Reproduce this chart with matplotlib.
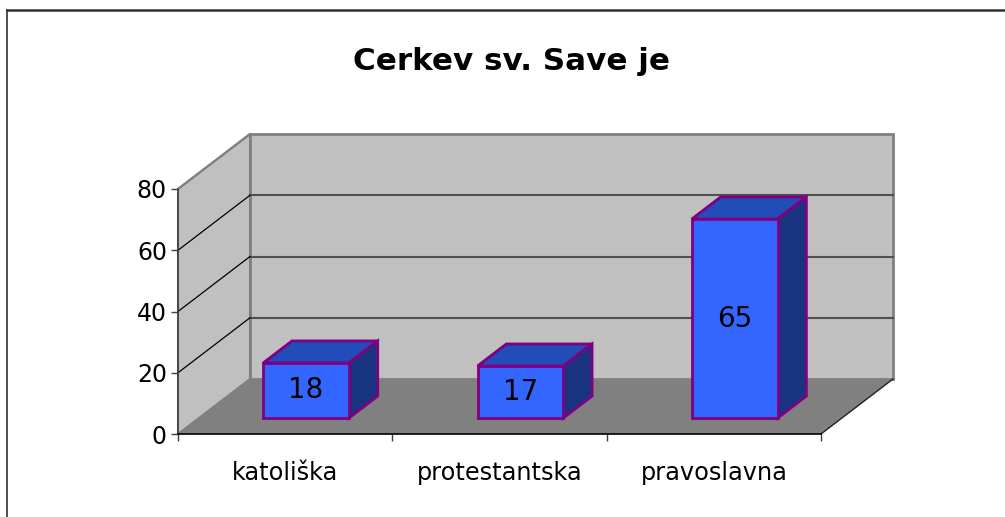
import matplotlib
matplotlib.use('Agg')
import matplotlib.pyplot as plt
from matplotlib.patches import Polygon

categories = ['katoliška', 'protestantska', 'pravoslavna']
values = [18, 17, 65]
yticks = [0, 20, 40, 60, 80]
title = 'Cerkev sv. Save je'

plt.rcParams['font.family'] = ['DejaVu Sans']

fig = plt.figure(figsize=(10.05, 5.17), dpi=100)
ax = fig.add_axes([178/1005, (517-434)/517, 643/1005, 245/517])
ax.set_xlim(0, len(categories))
ax.set_ylim(0, yticks[-1])
ax.patch.set_visible(False)

# oblique offset of the back wall, in data units
DX = 72/643*len(categories)
DY = 55/245*yticks[-1]
x0, x1 = ax.get_xlim()
y0, y1 = ax.get_ylim()

def proj(x, y, d):
    # d is the depth, 0 front, 1 back wall
    return (x + d*DX, y + d*DY)

def face(points, color, edge='none', lw=0, z=1):
    ax.add_patch(Polygon(points, closed=True, facecolor=color, edgecolor=edge,
                         linewidth=lw, clip_on=False, zorder=z, joinstyle='miter'))

wall = '#c0c0c0'
wall_edge = '#808080'

# floor and walls
face([proj(x0, y0, 0), proj(x0, y1, 0), proj(x0, y1, 1), proj(x0, y0, 1)], wall, wall_edge, 1.5, z=1)
face([proj(x0, y0, 1), proj(x1, y0, 1), proj(x1, y1, 1), proj(x0, y1, 1)], wall, wall_edge, 2, z=1)
face([proj(x0, y0, 0), proj(x1, y0, 0), proj(x1, y0, 1), proj(x0, y0, 1)], '#808080', z=2)
ax.plot(*zip(proj(x1, y0, 0), proj(x1, y0, 1)), color='#202020', lw=1, clip_on=False, zorder=2)

# gridlines
for t in yticks[1:-1]:
    ax.plot(*zip(proj(x0, t, 1), proj(x1, t, 1)), color='#505050', lw=1.5, clip_on=False, zorder=2)
    ax.plot(*zip(proj(x0, t, 0), proj(x0, t, 1)), color='black', lw=0.9, clip_on=False, zorder=2)
ax.plot(*zip(proj(x0, yticks[-1], 0), proj(x0, yticks[-1], 1)), color=wall_edge, lw=1.5, clip_on=False, zorder=2)

# bars
BAR_W = 0.4
D0, D1 = 0.29, 0.69
front = '#3366ff'
top = '#224cb8'
side = '#183480'
edge = '#800080'
for i, v in enumerate(values):
    xa = i + 0.5 - BAR_W/2
    xb = i + 0.5 + BAR_W/2
    face([proj(xa, 0, D0), proj(xb, 0, D0), proj(xb, v, D0), proj(xa, v, D0)], front, edge, 2, z=5)
    face([proj(xa, v, D0), proj(xb, v, D0), proj(xb, v, D1), proj(xa, v, D1)], top, edge, 2, z=4)
    face([proj(xb, 0, D0), proj(xb, 0, D1), proj(xb, v, D1), proj(xb, v, D0)], side, edge, 2, z=4)
    cx, cy = proj(i + 0.5, v/2, D0)
    ax.text(cx, cy, str(v), ha='center', va='center', fontsize=20, color='black', zorder=6)

# axes
for s in ['top', 'right']:
    ax.spines[s].set_visible(False)
ax.spines['left'].set_color('#404040')
ax.spines['bottom'].set_color('black')
ax.spines['left'].set_linewidth(1.2)
ax.spines['bottom'].set_linewidth(1.2)
ax.spines['left'].set_zorder(3)
ax.spines['bottom'].set_zorder(3)
ax.set_yticks(yticks)
ax.set_xticks(range(len(categories) + 1))
ax.set_xticklabels([])
ax.tick_params(axis='y', labelsize=17, length=5, width=1, color='#404040', pad=3)
ax.tick_params(axis='x', length=5, width=1, color='#404040')
for i, c in enumerate(categories):
    ax.annotate(c, (i + 0.5, 0), xytext=(0, -39), xycoords='data', textcoords='offset pixels',
                ha='center', va='center', fontsize=17.3)

fig.text(511.5/1005, 1 - 61/517, title, ha='center', va='center', fontsize=22.3, fontweight='bold')

# outer frame, open at the bottom
fig.add_artist(plt.Line2D([6.5/1005, 6.5/1005], [0, 1 - 10/517], color='#303030', lw=1.2))
fig.add_artist(plt.Line2D([6.5/1005, 1], [1 - 10/517, 1 - 10/517], color='#303030', lw=1.8))

fig.savefig('out.png', dpi=100, facecolor='white')
